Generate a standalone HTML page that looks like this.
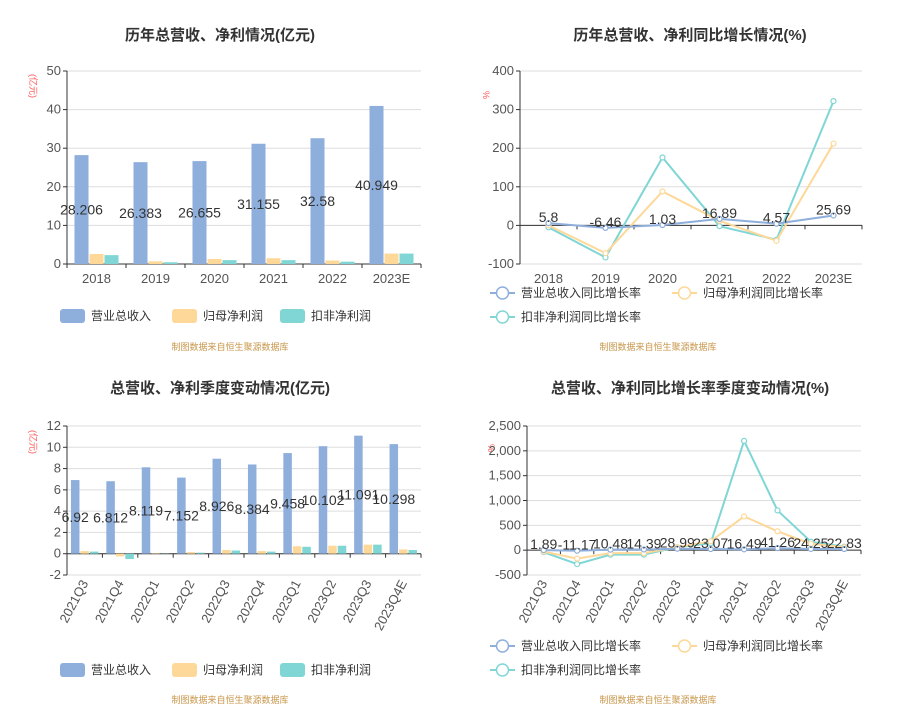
<!DOCTYPE html>
<html><head><meta charset="utf-8"><style>
body{margin:0;background:#fff}
svg{display:block;font-family:"Liberation Sans","Noto Sans CJK SC",sans-serif}
</style></head><body>
<svg id="s" width="922" height="725" viewBox="0 0 922 725"></svg>
<script>
const years=["2018","2019","2020","2021","2022","2023E"];
const rev=[28.206,26.383,26.655,31.155,32.58,40.949];
const np=[2.6,0.7,1.3,1.5,0.9,2.7];
const nnp=[2.3,0.45,1.0,1.0,0.6,2.7];
const yTicks1=[0,10,20,30,40,50];
const revG=[5.8,-6.46,1.03,16.89,4.57,25.69];
const npG=[0,-72,88,12,-40,212];
const nnpG=[-5,-83,176,-2,-37,322];
const yTicks2=[-100,0,100,200,300,400];
const quarters=["2021Q3","2021Q4","2022Q1","2022Q2","2022Q3","2022Q4","2023Q1","2023Q2","2023Q3","2023Q4E"];
const qRev=[6.92,6.812,8.119,7.152,8.926,8.384,9.458,10.102,11.091,10.298];
const qNp=[0.25,-0.25,0.05,0.15,0.35,0.25,0.7,0.75,0.85,0.4];
const qNnp=[0.2,-0.5,0.02,0.1,0.3,0.2,0.65,0.75,0.85,0.35];
const yTicks3=[-2,0,2,4,6,8,10,12];
const qRevG=[1.89,-11.17,10.48,14.39,28.99,23.07,16.49,41.26,24.25,22.83];
const qNpG=[-30,-170,-60,-60,60,180,680,380,130,60];
const qNnpG=[-40,-280,-90,-90,60,140,2200,800,170,70];
const yTicks4=[-500,0,500,1000,1500,2000,2500];
const yLabels4=["-500","0","500","1,000","1,500","2,000","2,500"];

const NS="http://www.w3.org/2000/svg";const S=document.getElementById('s');
function mk(tag,at,parent,txt){const e=document.createElementNS(NS,tag);for(const k in at)e.setAttribute(k,at[k]);if(txt!==undefined)e.textContent=txt;(parent||S).appendChild(e);return e;}
const C={b:"#8eaedc",o:"#fdd899",t:"#7fd6d5"};

function axes(g,x0,x1,ya,yb,vmin,vmax,ticks,labels,cats,rot){
  const Y=v=>yb-(v-vmin)/(vmax-vmin)*(yb-ya);
  ticks.forEach((t,i)=>{
    const gl=mk('line',{x1:x0,x2:x1,y1:Y(t),y2:Y(t),stroke:"#ddd","stroke-width":1},g);
    
    mk('line',{x1:x0-4,x2:x0,y1:Y(t),y2:Y(t),stroke:"#333"},g);
    const tl=mk('text',{x:x0-6,y:Y(t)+4,"text-anchor":"end","font-size":13,fill:"#555"},g,labels?labels[i]:String(t));
    
  });
  mk('line',{x1:x0,x2:x0,y1:ya,y2:yb,stroke:"#333"},g);
  const z=Y(0);
  mk('line',{x1:x0,x2:x1,y1:z,y2:z,stroke:"#333"},g);
  const w=(x1-x0)/cats.length;
  cats.forEach((c,i)=>{
    mk('line',{x1:x0+i*w,x2:x0+i*w,y1:z,y2:z+4,stroke:"#333"},g);
    const cx=x0+(i+.5)*w;let tl;
    if(rot){tl=mk('text',{x:cx+4,y:yb+8,"text-anchor":"end","font-size":13,fill:"#555",transform:`rotate(-62 ${cx+4} ${yb+8})`},g,c);}
    else tl=mk('text',{x:cx,y:yb+19,"text-anchor":"middle","font-size":13,fill:"#555"},g,c);
    
  });
  mk('line',{x1:x1,x2:x1,y1:z,y2:z+4,stroke:"#333"},g);
  return {Y,w};
}
function title(x,y,t){const e=mk('text',{x,y,"text-anchor":"middle","font-size":15,"font-weight":"bold",fill:"#333"},S,t);}
function unit(x,y,t){const e=mk('text',{x,y,"font-size":9,fill:"#f55",transform:`rotate(90 ${x} ${y})`},S,t);}
function src(x,y){const e=mk('text',{x,y,"text-anchor":"middle","font-size":9,fill:"#c8964a"},S,"制图数据来自恒生聚源数据库");}
function legRect(x,y,col,t){const g=mk('g',{});
  mk('rect',{x,y:y-7,width:25,height:14,rx:3,fill:col},g);mk('text',{x:x+31,y:y+4,"font-size":12,fill:"#333"},g,t);}
function legLine(x,y,col,t){const g=mk('g',{});
  mk('line',{x1:x,x2:x+25,y1:y,y2:y,stroke:col,"stroke-width":2},g);mk('circle',{cx:x+12.5,cy:y,r:6,fill:"#fff",stroke:col,"stroke-width":1.5},g);mk('text',{x:x+31,y:y+4,"font-size":12,fill:"#333"},g,t);}

function barChart(x0,x1,ya,yb,vmin,vmax,ticks,cats,series,bw,rot,fs){
  const g=mk('g',{});
  const {Y,w}=axes(g,x0,x1,ya,yb,vmin,vmax,ticks,null,cats,rot);
  const cols=[C.b,C.o,C.t];
  cats.forEach((c,i)=>{
    const gx=x0+i*w+(w-3*bw-2)/2;
    series.forEach((s,k)=>{
      const v=s[i],y0=Y(0),y1=Y(v);
      const r=mk('rect',{x:gx+k*(bw+1),y:Math.min(y0,y1),width:bw,height:Math.abs(y1-y0),fill:cols[k]},g);
      
    });
    const t=mk('text',{x:gx+bw/2,y:Y(series[0][i]/2)+5,"text-anchor":"middle","font-size":fs,fill:"#333"},g,String(series[0][i]));
    
  });
}
function lineChart(x0,x1,ya,yb,vmin,vmax,ticks,labels,cats,series,rot){
  const g=mk('g',{});
  const {Y,w}=axes(g,x0,x1,ya,yb,vmin,vmax,ticks,labels,cats,rot);
  const cols=[C.b,C.o,C.t];
  [2,1,0].forEach(k=>{
    const s=series[k];const pts=s.map((v,i)=>[x0+(i+.5)*w,Y(v)]);
    const p=mk('polyline',{points:pts.map(p=>p.join(',')).join(' '),fill:"none",stroke:cols[k],"stroke-width":2},g);
    
    pts.forEach(pt=>{const c=mk('circle',{cx:pt[0],cy:pt[1],r:2.5,fill:"#fff",stroke:cols[k],"stroke-width":1.2},g);
      });
  });
  series[0].forEach((v,i)=>{const t=mk('text',{x:x0+(i+.5)*w,y:Y(v)-1,"text-anchor":"middle","font-size":14,fill:"#333"},g,String(v));
    });
}

title(220,40,"历年总营收、净利情况(亿元)");
unit(30,74,"(亿元)");
barChart(67,421,71,264,0,50,yTicks1,years,[rev,np,nnp],14,false,14);
legRect(60,316,C.b,"营业总收入");legRect(172,316,C.o,"归母净利润");legRect(280,316,C.t,"扣非净利润");
src(230,350);

title(690,40,"历年总营收、净利同比增长情况(%)");
unit(483,91,"%");
lineChart(520,862,71,264,-100,400,yTicks2,null,years,[revG,npG,nnpG],false);
legLine(490,293,C.b,"营业总收入同比增长率");legLine(672,293,C.o,"归母净利润同比增长率");legLine(490,317,C.t,"扣非净利润同比增长率");
src(658,350);

title(220,393,"总营收、净利季度变动情况(亿元)");
unit(30,430,"(亿元)");
barChart(67,421,426,575,-2,12,yTicks3,quarters,[qRev,qNp,qNnp],8.5,true,14);
legRect(60,670,C.b,"营业总收入");legRect(172,670,C.o,"归母净利润");legRect(280,670,C.t,"扣非净利润");
src(230,703);

title(690,393,"总营收、净利同比增长率季度变动情况(%)");
unit(488,444,"%");
lineChart(527,861,426,575,-500,2500,yTicks4,yLabels4,quarters,[qRevG,qNpG,qNnpG],true);
legLine(490,646,C.b,"营业总收入同比增长率");legLine(672,646,C.o,"归母净利润同比增长率");legLine(490,670,C.t,"扣非净利润同比增长率");
src(658,703);
</script>
</body></html>
